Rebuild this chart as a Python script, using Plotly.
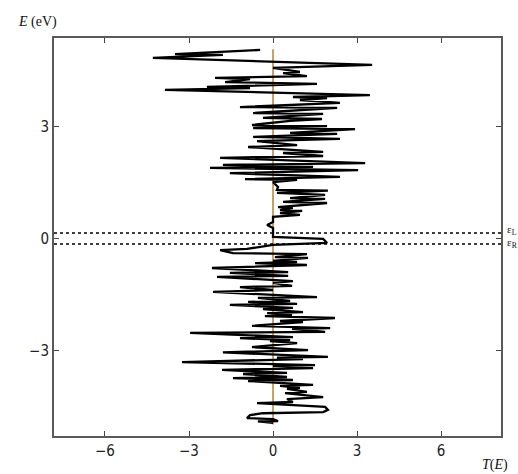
import plotly.graph_objects as go

# Transmission T(E) sampled along the energy axis (turning points of the trace)
energy = [
    5.05, 4.94, 4.92, 4.84, 4.65, 4.57, 4.46, 4.43, 4.35, 4.30,
    4.27, 4.19, 4.14, 4.06, 4.03, 3.98, 3.84, 3.79, 3.76, 3.71,
    3.63, 3.52, 3.50, 3.36, 3.34, 3.23, 3.20, 3.15, 3.04, 3.01,
    2.96, 2.93, 2.83, 2.80, 2.72, 2.67, 2.61, 2.50, 2.45, 2.32,
    2.29, 2.21, 2.16, 2.02, 1.97, 1.92, 1.89, 1.83, 1.75, 1.65,
    1.59, 1.57, 1.51, 1.38, 1.30, 1.28, 1.22, 1.17, 1.08, 1.06,
    0.98, 0.95, 0.84, 0.82, 0.76, 0.74, 0.68, 0.63, 0.58, 0.44,
    0.36, 0.28, 0.04, 0.01, -0.01, -0.12, -0.17, -0.28, -0.31, -0.39,
    -0.42, -0.50, -0.52, -0.60, -0.63, -0.66, -0.71, -0.79, -0.90, -0.92,
    -1.00, -1.03, -1.14, -1.19, -1.27, -1.30, -1.38, -1.43, -1.57, -1.59,
    -1.67, -1.70, -1.75, -1.78, -1.86, -1.89, -1.97, -2.00, -2.05, -2.08,
    -2.13, -2.21, -2.24, -2.34, -2.40, -2.42, -2.50, -2.53, -2.64, -2.67,
    -2.72, -2.75, -2.80, -2.91, -2.99, -3.05, -3.17, -3.19, -3.23, -3.31,
    -3.39, -3.42, -3.47, -3.52, -3.60, -3.63, -3.71, -3.74, -3.79, -3.82,
    -3.92, -3.95, -4.00, -4.03, -4.11, -4.14, -4.25, -4.30, -4.38, -4.41,
    -4.51, -4.59, -4.65, -4.68, -4.73, -4.81, -4.84, -4.89, -4.90, -4.94,
]
transmission = [
    -0.46, -3.50, -1.79, -4.29, 3.54, 0.00, 0.96, 0.36, 1.21, -2.07,
    -0.82, -1.71, 1.57, -2.36, -0.82, -3.86, 3.46, 0.71, 1.93, 0.96,
    2.39, -1.18, 2.29, -0.71, 1.79, -0.36, 1.75, 0.61, -0.75, 1.93,
    -0.71, 2.93, 0.61, 2.29, -0.71, 2.39, -0.57, 0.86, -0.89, 1.79,
    0.36, 1.79, -1.89, 3.29, -1.79, 1.43, -2.25, 3.04, -1.54, 2.39,
    -1.00, 0.86, 0.00, 0.18, 0.14, 1.96, 0.14, 1.86, 0.61, 1.86,
    0.36, 1.93, 0.18, 0.71, 0.25, 1.04, 0.25, 0.96, 0.00, 0.00,
    -0.21, 0.00, 0.00, 1.21, 1.79, 1.93, 0.00, -0.93, -1.89, -1.43,
    1.21, 0.07, 1.25, 0.00, 0.86, -0.64, 1.21, -2.18, 0.54, -1.54,
    0.54, -2.00, 0.71, 0.00, 0.68, -1.18, 0.00, -2.14, 1.57, -0.54,
    0.61, -0.89, 0.86, -1.54, 0.71, -0.36, 1.07, -0.21, 0.68, -0.29,
    2.21, 0.25, 1.07, -0.75, 2.04, 0.68, 1.86, -2.96, 0.71, -1.18,
    0.61, -0.11, 0.86, -0.75, 1.25, -1.79, 1.96, 0.14, 1.07, -3.25,
    1.50, 0.00, 1.43, -1.82, 0.50, -1.07, 0.50, -1.43, 0.71, -0.89,
    1.43, 0.25, 0.96, 0.50, 1.21, 0.43, 1.79, 0.50, 0.71, -0.57,
    1.86, 1.96, 1.79, -0.36, -0.82, -0.93, 0.00, 0.18, -0.54, 0.00,
]

# Reference line at T = 0 spanning the energy window
ref_T = [0, 0]
ref_E = [-4.98, 5.07]

# Lead levels
eps_L = 0.15
eps_R = -0.15

x_ticks = [-6, -3, 0, 3, 6]
y_ticks = [-3, 0, 3]
x_range = [-7.82, 8.14]
y_range = [-5.29, 5.37]

fig = go.Figure()

fig.add_trace(go.Scatter(
    x=ref_T, y=ref_E, mode="lines",
    line=dict(color="#c9a064", width=2),
    hoverinfo="skip", showlegend=False,
))
fig.add_trace(go.Scatter(
    x=transmission, y=energy, mode="lines",
    line=dict(color="black", width=2.3),
    showlegend=False,
))

for lvl in (eps_L, eps_R):
    fig.add_trace(go.Scatter(
        x=x_range, y=[lvl, lvl], mode="lines",
        line=dict(color="black", width=1.5, dash="dot"),
        hoverinfo="skip", showlegend=False,
    ))

tick_font = dict(family="DejaVu Sans Condensed, DejaVu Sans", size=15, color="#222")
label_font = dict(family="Liberation Serif, DejaVu Serif", size=14, color="#111")
eps_font = dict(family="Liberation Serif, DejaVu Serif", size=11, color="#111")

axis_common = dict(
    showgrid=False, zeroline=False,
    showline=True, linecolor="#5a5a5a", linewidth=2, mirror="allticks",
    ticks="inside", ticklen=5, tickwidth=1, tickcolor="#444",
    tickfont=tick_font,
)

fig.update_layout(
    width=518, height=474,
    margin=dict(l=54, r=17, t=38, b=38),
    paper_bgcolor="white", plot_bgcolor="white",
    xaxis=dict(range=x_range, tickvals=x_ticks, **axis_common),
    yaxis=dict(range=y_range, tickvals=y_ticks, **axis_common),
    annotations=[
        dict(text="<i>E</i> (eV)", xref="paper", yref="paper",
             x=-0.085, y=1.04, xanchor="left", yanchor="middle",
             showarrow=False, font=label_font),
        dict(text="<i>T</i>(<i>E</i>)", xref="paper", yref="paper",
             x=1.02, y=-0.073, xanchor="right", yanchor="middle",
             showarrow=False, font=label_font),
        dict(text="ε<sub>L</sub>", xref="paper", yref="y",
             x=1.008, y=eps_L + 0.08, xanchor="left", yanchor="middle",
             showarrow=False, font=eps_font),
        dict(text="ε<sub>R</sub>", xref="paper", yref="y",
             x=1.008, y=eps_R + 0.02, xanchor="left", yanchor="middle",
             showarrow=False, font=eps_font),
    ],
)

fig.write_html("out.html")
